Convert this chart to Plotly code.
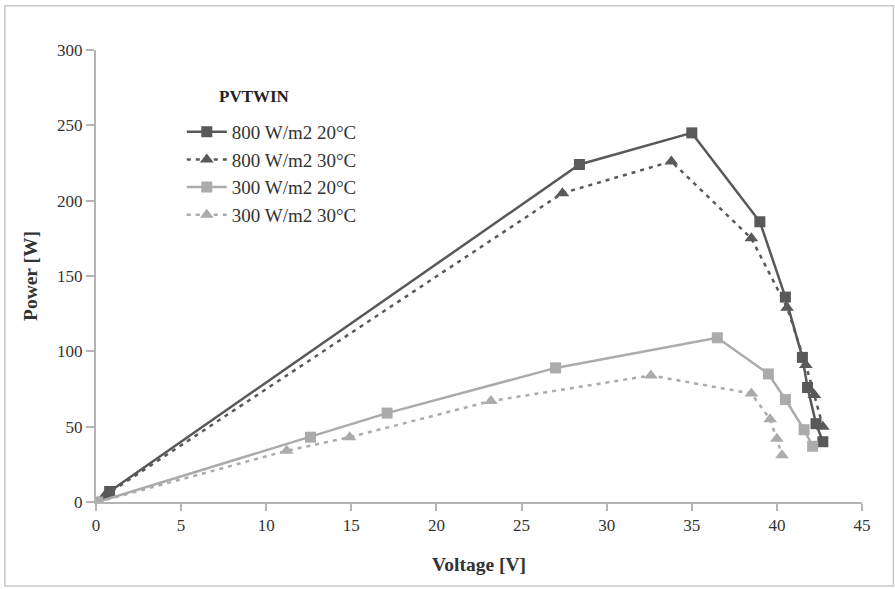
import plotly.graph_objects as go

# Measured P-V curves of the PVTWIN module
v_800_20 = [0.8, 28.4, 35.0, 39.0, 40.5, 41.5, 41.8, 42.3, 42.7]
p_800_20 = [7, 224, 245, 186, 136, 96, 76, 52, 40]

v_800_30 = [0.5, 27.4, 33.8, 38.5, 40.6, 41.7, 42.2, 42.7]
p_800_30 = [4, 205, 226, 175, 129, 91, 71, 50]

v_300_20 = [0.1, 12.6, 17.1, 27.0, 36.5, 39.5, 40.5, 41.6, 42.1]
p_300_20 = [0, 43, 59, 89, 109, 85, 68, 48, 37]

v_300_30 = [0.1, 11.2, 14.9, 23.2, 32.6, 38.5, 39.6, 40.0, 40.3]
p_300_30 = [0, 34, 43, 67, 84, 72, 55, 42, 31]

x_ticks = [0, 5, 10, 15, 20, 25, 30, 35, 40, 45]
y_ticks = [0, 50, 100, 150, 200, 250, 300]

DARK = "#595959"
LIGHT = "#ababab"
AXIS = "#b4b4b4"
FONT = "Liberation Serif"

fig = go.Figure()
fig.add_trace(go.Scatter(
    x=v_800_20, y=p_800_20, name="800 W/m2 20°C", mode="lines+markers",
    line=dict(color=DARK, width=2.5),
    marker=dict(symbol="square", size=11, color=DARK)))
fig.add_trace(go.Scatter(
    x=v_800_30, y=p_800_30, name="800 W/m2 30°C", mode="lines+markers",
    line=dict(color=DARK, width=2.5, dash="4px,5px"),
    marker=dict(symbol="triangle-up", size=12, color=DARK)))
fig.add_trace(go.Scatter(
    x=v_300_20, y=p_300_20, name="300 W/m2 20°C", mode="lines+markers",
    line=dict(color=LIGHT, width=2.5),
    marker=dict(symbol="square", size=11, color=LIGHT)))
fig.add_trace(go.Scatter(
    x=v_300_30, y=p_300_30, name="300 W/m2 30°C", mode="lines+markers",
    line=dict(color=LIGHT, width=2.5, dash="4px,5px"),
    marker=dict(symbol="triangle-up", size=12, color=LIGHT)))

fig.update_layout(
    width=895, height=589,
    margin=dict(l=96, r=33, t=50, b=87),
    paper_bgcolor="white", plot_bgcolor="white",
    font=dict(family=FONT, size=17, color="#333333"),
    showlegend=True,
    legend=dict(
        x=0.112, y=0.861, xanchor="left", yanchor="top",
        bgcolor="rgba(0,0,0,0)", font=dict(family=FONT, size=19, color="#333333"),
        tracegroupgap=0, itemwidth=40,
    ),
    xaxis=dict(
        range=[0, 45], tickvals=x_ticks, ticktext=[str(t) for t in x_ticks],
        showgrid=False, zeroline=False, showline=True, linecolor=AXIS, linewidth=2,
        ticks="outside", ticklen=7, tickcolor=AXIS, tickwidth=1.5,
        tickfont=dict(family=FONT, size=17, color="#333333"),
        title=dict(text="<b>Voltage [V]</b>", font=dict(family=FONT, size=19.5, color="#333333"),
                   standoff=23),
    ),
    yaxis=dict(
        range=[0, 300], tickvals=y_ticks, ticktext=[str(t) for t in y_ticks],
        showgrid=False, zeroline=False, showline=True, linecolor=AXIS, linewidth=2,
        ticks="outside", ticklen=8, tickcolor=AXIS, tickwidth=1.5,
        tickfont=dict(family=FONT, size=17, color="#333333"),
        title=dict(text="<b>Power [W]</b>", font=dict(family=FONT, size=19.5, color="#333333"),
                   standoff=14),
    ),
    annotations=[dict(
        text="<b>PVTWIN</b>", xref="paper", yref="paper",
        x=0.207, y=0.898, xanchor="center", yanchor="middle", showarrow=False,
        font=dict(family=FONT, size=17, color="#222222"),
    )],
    shapes=[dict(
        type="rect", xref="paper", yref="paper",
        x0=-0.119, x1=1.041, y0=-0.186, y1=1.098,
        line=dict(color="#c8c8c8", width=1.5), fillcolor="rgba(0,0,0,0)", layer="below",
    )],
)

fig.write_html("out.html")
